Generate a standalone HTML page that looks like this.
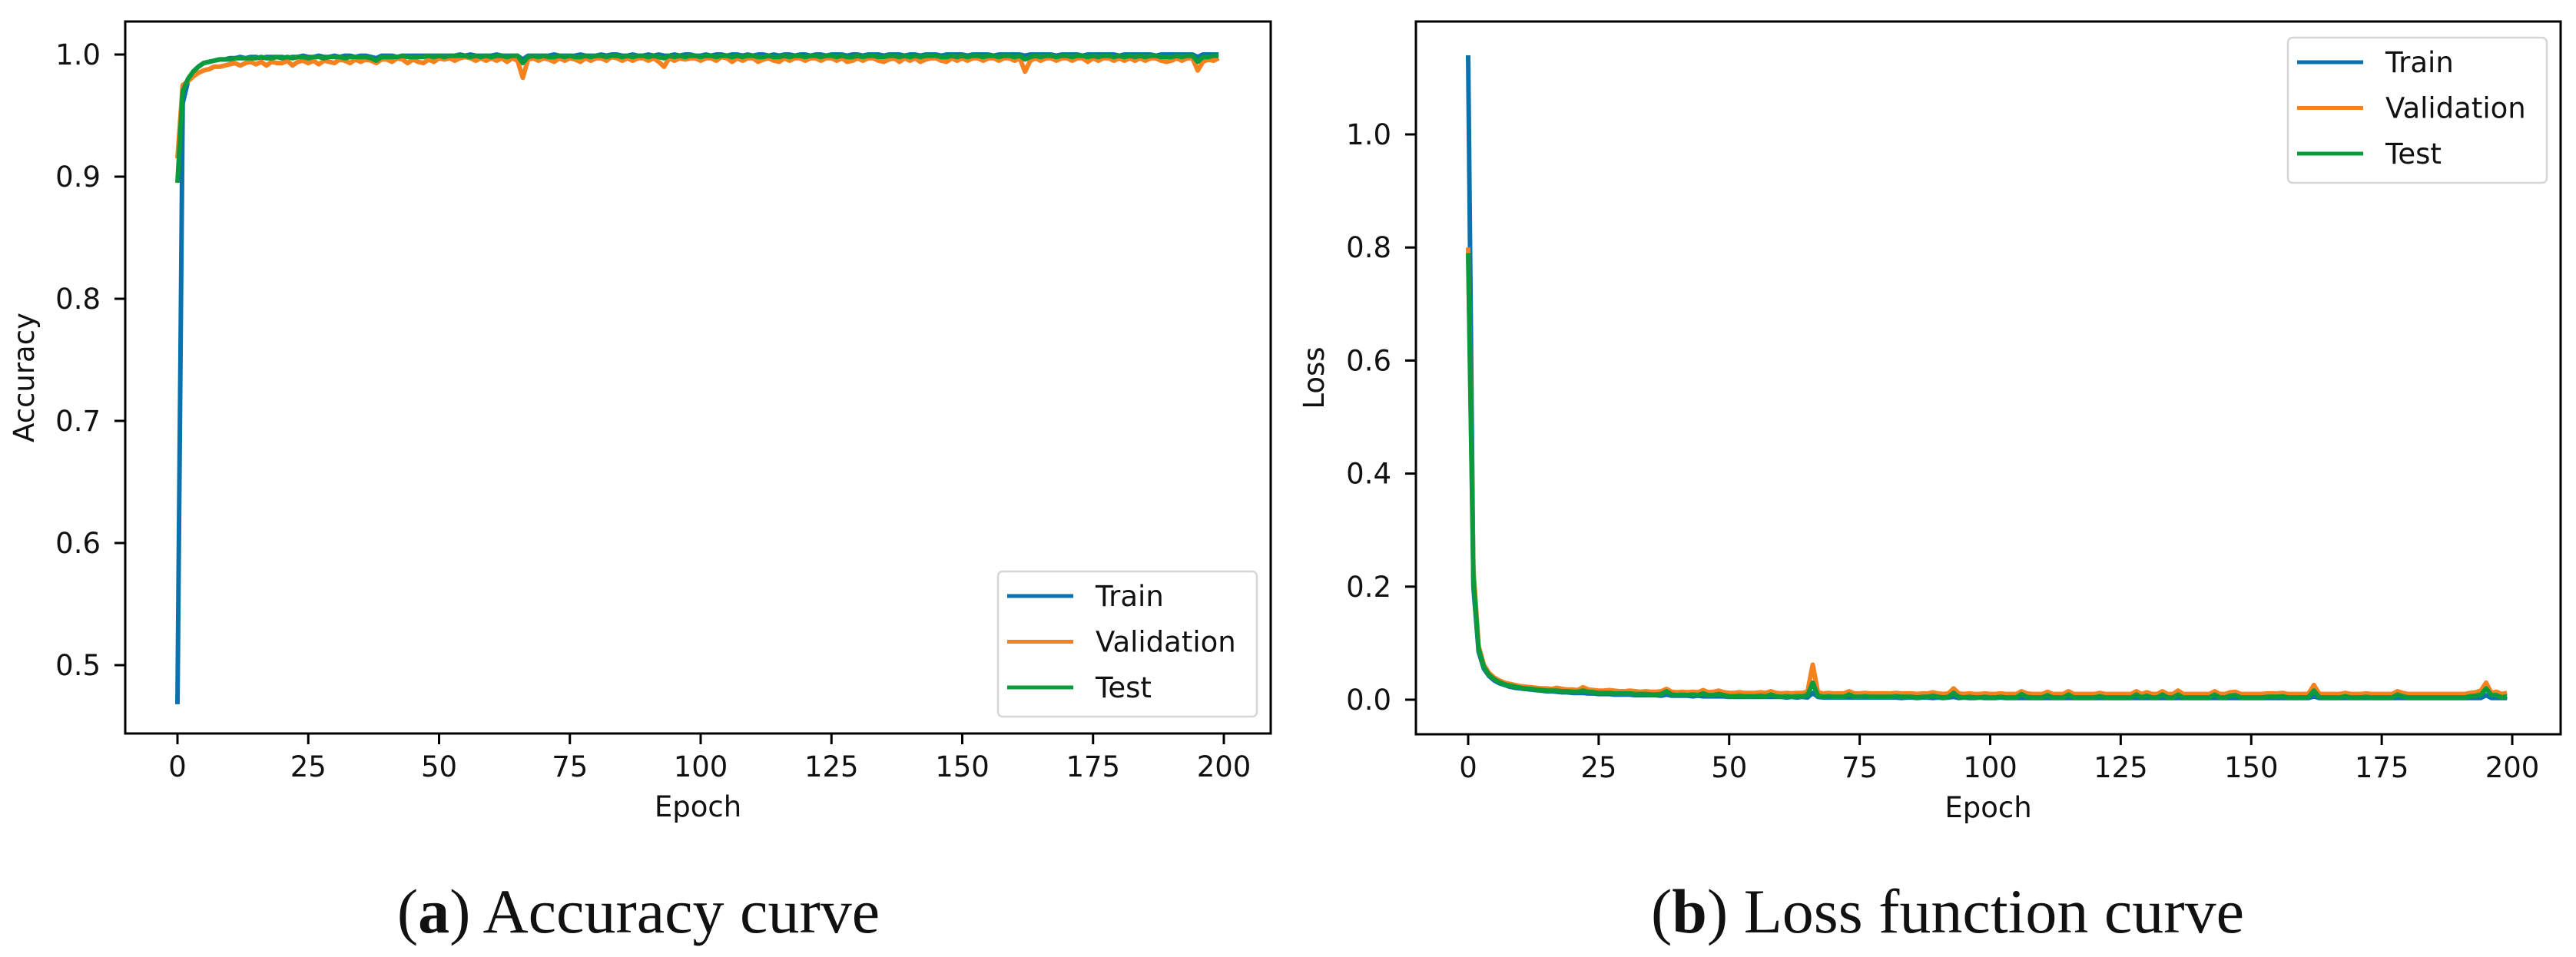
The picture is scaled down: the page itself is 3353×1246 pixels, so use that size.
<!DOCTYPE html>
<html><head><meta charset="utf-8"><style>
html,body{margin:0;padding:0;background:#fff;}
svg{display:block;}
text{font-family:"DejaVu Sans","Liberation Sans",sans-serif;fill:#111;}
.cap{font-family:"Liberation Serif",serif;}
</style></head><body>
<svg id="fig" width="3353" height="1246" viewBox="0 0 3353 1246" xmlns="http://www.w3.org/2000/svg">
<g id="accG"></g>
<g id="lossG"></g>
<text class="cap" x="831" y="1214" font-size="82" text-anchor="middle">(<tspan font-weight="bold">a</tspan>) Accuracy curve</text>
<text class="cap" x="2535" y="1214" font-size="82" text-anchor="middle">(<tspan font-weight="bold">b</tspan>) Loss function curve</text>
</svg>
<script>
const seriesNames = ["Train","Validation","Test"];
const seriesColors = ["#0b72ad","#f5821f","#0b9a3c"];
const xTicks = [0,25,50,75,100,125,150,175,200];
const accYTicks = [0.5,0.6,0.7,0.8,0.9,1.0];
const lossYTicks = [0.0,0.2,0.4,0.6,0.8,1.0];

const accTrain = [
0.468,0.960,0.978,0.986,0.990,0.993,0.994,0.995,0.996,0.996,
0.997,0.997,0.998,0.997,0.998,0.998,0.997,0.998,0.998,0.998,
0.998,0.997,0.998,0.998,0.999,0.998,0.998,0.999,0.998,0.998,
0.999,0.998,0.999,0.999,0.998,0.999,0.999,0.998,0.997,0.999,
0.999,0.999,0.998,0.999,0.999,0.999,0.999,0.999,0.999,0.999,
0.999,0.999,0.999,0.999,1.000,0.999,1.000,0.999,0.999,0.999,
0.999,1.000,0.999,0.999,0.999,0.999,0.996,0.999,0.999,0.999,
0.999,0.999,1.000,0.999,0.999,0.999,0.999,1.000,0.999,0.999,
0.999,1.000,0.999,1.000,1.000,0.999,0.999,1.000,0.999,0.999,
1.000,0.999,1.000,0.999,0.999,1.000,0.999,1.000,1.000,0.999,
0.999,1.000,0.999,1.000,1.000,0.999,1.000,1.000,0.999,1.000,
0.999,1.000,1.000,0.999,1.000,0.999,1.000,1.000,0.999,1.000,
1.000,0.999,1.000,1.000,0.999,1.000,1.000,1.000,0.999,1.000,
1.000,0.999,1.000,1.000,1.000,0.999,1.000,1.000,1.000,0.999,
1.000,1.000,0.999,1.000,1.000,1.000,0.999,1.000,1.000,1.000,
1.000,0.999,1.000,1.000,1.000,1.000,0.999,1.000,1.000,1.000,
1.000,1.000,0.999,1.000,1.000,1.000,1.000,1.000,0.999,1.000,
1.000,1.000,1.000,0.999,1.000,1.000,1.000,1.000,1.000,1.000,
0.999,1.000,1.000,1.000,1.000,1.000,1.000,0.999,1.000,1.000,
1.000,1.000,1.000,1.000,1.000,0.998,1.000,1.000,1.000,1.000];
const accVal = [
0.915,0.975,0.978,0.982,0.985,0.987,0.988,0.990,0.990,0.991,
0.992,0.993,0.991,0.993,0.994,0.992,0.994,0.991,0.994,0.993,
0.993,0.995,0.991,0.994,0.995,0.993,0.995,0.992,0.995,0.994,
0.993,0.996,0.995,0.993,0.996,0.994,0.996,0.995,0.993,0.996,
0.996,0.994,0.997,0.996,0.993,0.996,0.994,0.993,0.996,0.994,
0.997,0.996,0.997,0.995,0.997,0.998,0.997,0.995,0.997,0.995,
0.997,0.995,0.997,0.994,0.997,0.995,0.981,0.996,0.997,0.995,
0.997,0.996,0.994,0.997,0.995,0.997,0.996,0.994,0.997,0.995,
0.997,0.997,0.995,0.998,0.997,0.995,0.997,0.995,0.997,0.997,
0.995,0.997,0.994,0.990,0.997,0.995,0.997,0.996,0.997,0.997,
0.995,0.997,0.997,0.995,0.998,0.997,0.994,0.997,0.995,0.997,
0.997,0.994,0.996,0.997,0.995,0.994,0.997,0.995,0.997,0.997,
0.995,0.997,0.997,0.995,0.997,0.997,0.995,0.997,0.994,0.995,
0.997,0.995,0.997,0.997,0.995,0.994,0.996,0.997,0.994,0.997,
0.995,0.997,0.994,0.996,0.997,0.997,0.995,0.994,0.997,0.995,
0.997,0.995,0.997,0.997,0.995,0.997,0.997,0.995,0.997,0.997,
0.995,0.997,0.986,0.995,0.997,0.995,0.997,0.997,0.995,0.997,
0.997,0.995,0.997,0.997,0.994,0.997,0.995,0.997,0.997,0.995,
0.997,0.995,0.997,0.995,0.997,0.995,0.997,0.997,0.995,0.994,
0.995,0.997,0.995,0.997,0.997,0.987,0.994,0.996,0.995,0.997];
const accTest = [
0.895,0.970,0.980,0.986,0.990,0.993,0.994,0.995,0.996,0.996,
0.996,0.997,0.997,0.997,0.997,0.997,0.998,0.997,0.997,0.998,
0.997,0.998,0.997,0.998,0.998,0.997,0.998,0.998,0.997,0.998,
0.998,0.998,0.997,0.998,0.998,0.998,0.998,0.997,0.995,0.998,
0.998,0.998,0.998,0.999,0.998,0.998,0.998,0.998,0.999,0.998,
0.999,0.998,0.999,0.999,0.999,0.999,0.998,0.999,0.998,0.999,
0.998,0.999,0.999,0.998,0.999,0.999,0.993,0.998,0.999,0.998,
0.999,0.998,0.998,0.999,0.998,0.999,0.998,0.998,0.999,0.998,
0.999,0.999,0.998,0.999,0.999,0.998,0.999,0.998,0.999,0.999,
0.998,0.999,0.998,0.997,0.999,0.998,0.999,0.998,0.999,0.999,
0.998,0.999,0.999,0.998,0.999,0.999,0.998,0.999,0.998,0.999,
0.999,0.998,0.998,0.999,0.998,0.998,0.999,0.998,0.999,0.999,
0.998,0.999,0.999,0.998,0.999,0.999,0.998,0.999,0.998,0.998,
0.999,0.998,0.999,0.999,0.998,0.998,0.999,0.999,0.998,0.999,
0.998,0.999,0.998,0.999,0.999,0.999,0.998,0.998,0.999,0.998,
0.999,0.998,0.999,0.999,0.998,0.999,0.999,0.998,0.999,0.999,
0.998,0.999,0.996,0.998,0.999,0.998,0.999,0.999,0.998,0.999,
0.999,0.998,0.999,0.999,0.998,0.999,0.998,0.999,0.999,0.998,
0.999,0.998,0.999,0.998,0.999,0.998,0.999,0.999,0.998,0.998,
0.998,0.999,0.998,0.999,0.999,0.994,0.998,0.998,0.999,0.999];

const lossTrain = [
1.140,0.200,0.085,0.055,0.042,0.034,0.029,0.026,0.023,0.021,
0.020,0.019,0.018,0.017,0.016,0.015,0.015,0.014,0.013,0.013,
0.012,0.012,0.012,0.011,0.011,0.010,0.010,0.010,0.009,0.009,
0.009,0.009,0.008,0.008,0.008,0.008,0.008,0.007,0.009,0.007,
0.007,0.007,0.007,0.006,0.007,0.006,0.006,0.006,0.006,0.006,
0.005,0.005,0.005,0.005,0.005,0.005,0.005,0.005,0.005,0.005,
0.005,0.004,0.005,0.004,0.005,0.004,0.012,0.005,0.004,0.004,
0.004,0.004,0.004,0.004,0.004,0.004,0.004,0.004,0.004,0.004,
0.004,0.004,0.004,0.003,0.004,0.004,0.003,0.004,0.004,0.003,
0.004,0.003,0.004,0.005,0.003,0.004,0.003,0.003,0.004,0.003,
0.003,0.003,0.004,0.003,0.003,0.003,0.003,0.003,0.003,0.003,
0.003,0.003,0.003,0.003,0.003,0.003,0.003,0.003,0.003,0.003,
0.003,0.003,0.003,0.003,0.003,0.003,0.003,0.003,0.003,0.003,
0.003,0.003,0.003,0.003,0.003,0.003,0.003,0.003,0.003,0.003,
0.003,0.003,0.003,0.003,0.003,0.003,0.003,0.003,0.003,0.003,
0.003,0.003,0.003,0.003,0.003,0.003,0.003,0.003,0.003,0.003,
0.003,0.003,0.006,0.003,0.003,0.003,0.003,0.003,0.003,0.003,
0.003,0.003,0.003,0.003,0.003,0.003,0.003,0.003,0.003,0.003,
0.003,0.003,0.003,0.003,0.003,0.003,0.003,0.003,0.003,0.003,
0.003,0.003,0.003,0.003,0.003,0.008,0.003,0.003,0.003,0.003];
const lossVal = [
0.800,0.230,0.095,0.062,0.047,0.039,0.034,0.030,0.028,0.026,
0.024,0.023,0.022,0.021,0.020,0.020,0.019,0.021,0.019,0.018,
0.018,0.017,0.022,0.018,0.017,0.016,0.016,0.017,0.016,0.015,
0.015,0.016,0.015,0.014,0.015,0.014,0.014,0.015,0.019,0.014,
0.013,0.014,0.013,0.014,0.013,0.017,0.013,0.014,0.016,0.013,
0.012,0.012,0.013,0.012,0.012,0.012,0.013,0.012,0.015,0.012,
0.011,0.012,0.011,0.012,0.012,0.014,0.062,0.013,0.011,0.012,
0.011,0.011,0.011,0.015,0.011,0.011,0.012,0.011,0.011,0.011,
0.011,0.011,0.012,0.011,0.011,0.011,0.010,0.011,0.011,0.013,
0.011,0.010,0.011,0.020,0.011,0.010,0.011,0.010,0.010,0.011,
0.010,0.010,0.011,0.010,0.010,0.010,0.015,0.011,0.010,0.010,
0.010,0.014,0.010,0.010,0.010,0.015,0.010,0.010,0.010,0.010,
0.010,0.012,0.010,0.010,0.010,0.010,0.010,0.010,0.015,0.010,
0.013,0.010,0.010,0.015,0.010,0.010,0.016,0.010,0.010,0.010,
0.010,0.010,0.010,0.015,0.010,0.010,0.013,0.014,0.010,0.010,
0.010,0.010,0.010,0.011,0.011,0.011,0.012,0.010,0.010,0.010,
0.010,0.011,0.026,0.011,0.010,0.010,0.010,0.010,0.012,0.010,
0.010,0.010,0.011,0.010,0.010,0.010,0.010,0.010,0.015,0.012,
0.010,0.010,0.010,0.010,0.010,0.010,0.010,0.010,0.010,0.010,
0.010,0.010,0.012,0.013,0.016,0.030,0.012,0.014,0.010,0.012];
const lossTest = [
0.790,0.215,0.090,0.058,0.044,0.036,0.031,0.027,0.025,0.023,
0.021,0.020,0.019,0.018,0.017,0.016,0.016,0.016,0.015,0.015,
0.014,0.014,0.016,0.014,0.013,0.012,0.012,0.012,0.011,0.011,
0.011,0.011,0.010,0.010,0.010,0.009,0.009,0.010,0.015,0.009,
0.008,0.009,0.008,0.009,0.008,0.011,0.008,0.008,0.010,0.008,
0.006,0.006,0.007,0.006,0.006,0.006,0.007,0.006,0.009,0.006,
0.005,0.006,0.005,0.006,0.006,0.008,0.030,0.007,0.005,0.006,
0.005,0.005,0.005,0.009,0.005,0.005,0.006,0.005,0.005,0.005,
0.005,0.005,0.006,0.005,0.005,0.005,0.004,0.005,0.005,0.007,
0.005,0.004,0.005,0.012,0.005,0.004,0.005,0.004,0.004,0.005,
0.004,0.004,0.005,0.004,0.004,0.004,0.010,0.005,0.004,0.004,
0.004,0.008,0.004,0.004,0.004,0.009,0.004,0.004,0.004,0.004,
0.004,0.006,0.004,0.004,0.004,0.004,0.004,0.004,0.009,0.004,
0.007,0.004,0.004,0.009,0.004,0.004,0.009,0.004,0.004,0.004,
0.004,0.004,0.004,0.009,0.004,0.004,0.007,0.008,0.004,0.004,
0.004,0.004,0.004,0.005,0.005,0.005,0.006,0.004,0.004,0.004,
0.004,0.005,0.016,0.005,0.004,0.004,0.004,0.004,0.006,0.004,
0.004,0.004,0.005,0.004,0.004,0.004,0.004,0.004,0.009,0.006,
0.004,0.004,0.004,0.004,0.004,0.004,0.004,0.004,0.004,0.004,
0.004,0.004,0.006,0.007,0.009,0.020,0.008,0.008,0.004,0.006];

const NS = "http://www.w3.org/2000/svg";
function mk(parent, tag, attrs){
  const e = document.createElementNS(NS, tag);
  for (const k in attrs) e.setAttribute(k, attrs[k]);
  parent.appendChild(e);
  return e;
}

function drawChart(g, cfg){
  const xs = v => cfg.x0 + (v - 0) / 200 * (cfg.x200 - cfg.x0);
  const ys = v => cfg.yA + (v - cfg.vA) / (cfg.vB - cfg.vA) * (cfg.yB - cfg.yA);
  cfg.series.forEach((arr, si) => {
    let d = "";
    arr.forEach((v, i) => { d += (i ? "L" : "M") + xs(i).toFixed(1) + " " + ys(v).toFixed(1); });
    const p = mk(g, "path", {d: d, fill: "none", stroke: seriesColors[si], "stroke-width": 6, "stroke-linejoin": "round"});
    
    
  });
  const fr = mk(g, "rect", {x: cfg.L, y: cfg.T, width: cfg.R - cfg.L, height: cfg.B - cfg.T, fill: "none", stroke: "#000", "stroke-width": 3});
  
  
  xTicks.forEach(t => {
    const x = xs(t);
    const tl = mk(g, "line", {x1: x, y1: cfg.B, x2: x, y2: cfg.B + 14, stroke: "#000", "stroke-width": 3});
    
    
    const tx = mk(g, "text", {x: x, y: cfg.B + 56, "font-size": 37, "text-anchor": "middle"});
    tx.textContent = String(t);
    
    
  });
  cfg.yTicks.forEach(t => {
    const y = ys(t);
    const tl = mk(g, "line", {x1: cfg.L - 14, y1: y, x2: cfg.L, y2: y, stroke: "#000", "stroke-width": 3});
    
    
    const tx = mk(g, "text", {x: cfg.L - 32, y: y + 13, "font-size": 37, "text-anchor": "end"});
    tx.textContent = t.toFixed(1);
    
    
  });
  const xl = mk(g, "text", {x: (cfg.L + cfg.R) / 2, y: cfg.B + 108, "font-size": 37, "text-anchor": "middle"});
  xl.textContent = "Epoch";
  
  
  const yl = mk(g, "text", {x: 0, y: 0, "font-size": 37, "text-anchor": "middle", transform: "translate(" + (cfg.ylX) + "," + ((cfg.T + cfg.B) / 2) + ") rotate(-90)"});
  yl.textContent = cfg.ylabel;
  
  
  const lg = mk(g, "g", {});
  
  
  mk(lg, "rect", {x: cfg.lgX, y: cfg.lgY, width: 337, height: 189, rx: 6, fill: "#fff", "fill-opacity": 0.85, stroke: "#d6d6d6", "stroke-width": 2.5});
  seriesNames.forEach((n, i) => {
    const cy = cfg.lgY + 32 + i * 59.5;
    const ln = mk(lg, "line", {x1: cfg.lgX + 12, y1: cy, x2: cfg.lgX + 98, y2: cy, stroke: seriesColors[i], "stroke-width": 5});
    
    
    const tx = mk(lg, "text", {x: cfg.lgX + 127, y: cy + 13, "font-size": 37});
    tx.textContent = n;
    
    
  });
}

drawChart(document.getElementById("accG"), {
  prefix: "accuracy", L: 163, R: 1654, T: 28, B: 955, x0: 231, x200: 1593,
  vA: 1.0, yA: 71, vB: 0.5, yB: 866, yTicks: accYTicks, ylabel: "Accuracy", ylX: 44,
  series: [accTrain, accVal, accTest], lgX: 1299, lgY: 744
});
drawChart(document.getElementById("lossG"), {
  prefix: "loss", L: 1843, R: 3333, T: 28, B: 956, x0: 1911, x200: 3270,
  vA: 1.0, yA: 175, vB: 0.0, yB: 911, yTicks: lossYTicks, ylabel: "Loss", ylX: 1723,
  series: [lossTrain, lossVal, lossTest], lgX: 2978, lgY: 49
});
</script>
</body></html>
